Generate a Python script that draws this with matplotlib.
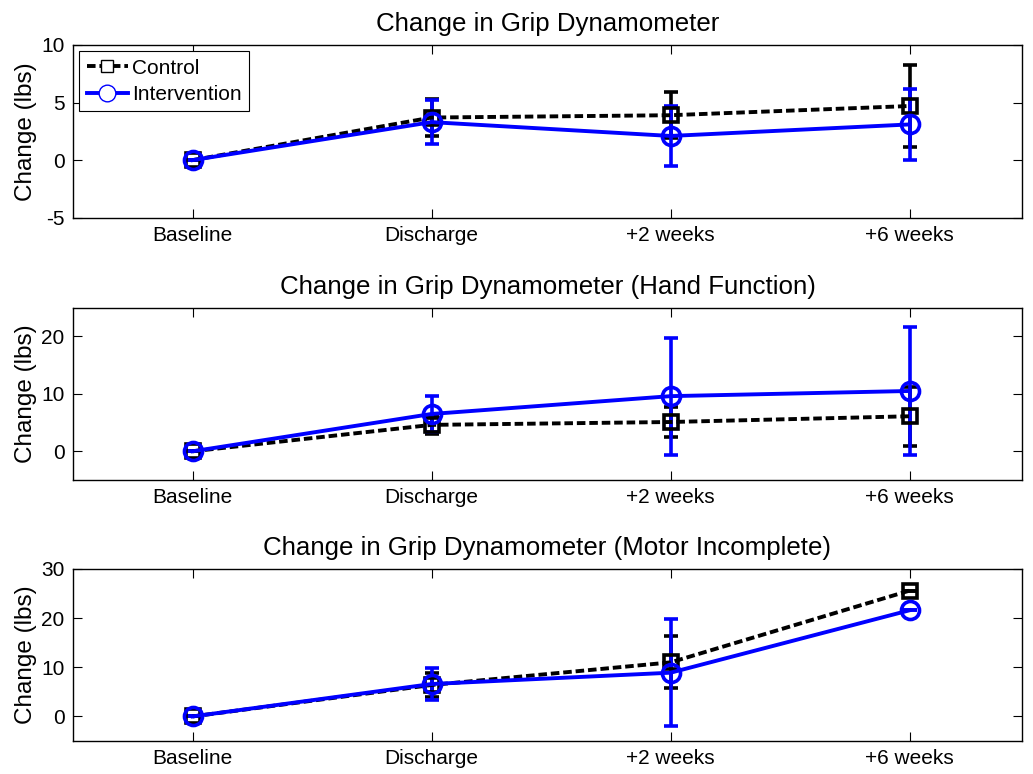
import matplotlib
matplotlib.use('Agg')
import matplotlib.pyplot as plt
from matplotlib.lines import Line2D

plt.rcParams['font.family'] = ['Liberation Sans', 'DejaVu Sans']
plt.rcParams['axes.unicode_minus'] = False

categories = ['Baseline', 'Discharge', '+2 weeks', '+6 weeks']
x = [1, 2, 3, 4]

titles = ['Change in Grip Dynamometer',
          'Change in Grip Dynamometer (Hand Function)',
          'Change in Grip Dynamometer (Motor Incomplete)']

control_mean = [[0, 3.7, 3.9, 4.7],
                [0, 4.6, 5.1, 6.1],
                [0, 6.4, 11.0, 25.6]]
control_err = [[0, 1.6, 2.0, 3.6],
               [0, 1.6, 2.6, 5.1],
               [0, 2.5, 5.3, 0]]
interv_mean = [[0, 3.3, 2.1, 3.1],
               [0, 6.5, 9.6, 10.5],
               [0, 6.6, 8.9, 21.6]]
interv_err = [[0, 1.9, 2.6, 3.1],
              [0, 3.2, 10.2, 11.1],
              [0, 3.3, 10.9, 0]]

ylims = [(-5, 10), (-5, 25), (-5, 30)]
yticks = [[-5, 0, 5, 10], [0, 10, 20], [0, 10, 20, 30]]

# axes boxes in figure fraction: left, bottom, width, height
boxes = [(0.0707, 0.7187, 0.9186, 0.2232),
         (0.0707, 0.3798, 0.9186, 0.2227),
         (0.0707, 0.0426, 0.9186, 0.2223)]

dash = (0, (2.2, 1.0))
blue = '#0000ff'

fig = plt.figure(figsize=(10.33, 7.74), dpi=100)

for i in range(3):
    ax = fig.add_axes(boxes[i])
    ax.errorbar(x, control_mean[i], yerr=control_err[i], color='black',
                linestyle=dash, linewidth=2.8, marker='s',
                markersize=10.5, markerfacecolor='none', markeredgewidth=2.6,
                elinewidth=2.6, capsize=5, capthick=2.6)
    ax.errorbar(x, interv_mean[i], yerr=interv_err[i], color=blue,
                linestyle='-', linewidth=2.8, marker='o',
                markersize=13, markerfacecolor='none', markeredgewidth=2.6,
                elinewidth=2.6, capsize=5, capthick=2.6)
    ax.set_xlim(0.5, 4.47)
    ax.set_ylim(*ylims[i])
    ax.set_xticks(x)
    ax.set_xticklabels(categories)
    ax.set_yticks(yticks[i])
    ax.tick_params(direction='in', top=True, right=True, length=6.5,
                   width=0.8, labelsize=15, pad=6)
    for s in ax.spines.values():
        s.set_linewidth(1.0)
    ax.set_title(titles[i], fontsize=18.6, pad=10)
    ax.set_ylabel('Change (lbs)', fontsize=17.5)
    ax.yaxis.set_label_coords(-0.038, 0.5)
    if i == 0:
        handles = [Line2D([], [], color='black', linestyle=dash, linewidth=2.8,
                          marker='s', markersize=9, markerfacecolor='white',
                          markeredgewidth=1.0),
                   Line2D([], [], color=blue, linestyle='-', linewidth=2.8,
                          marker='o', markersize=12, markerfacecolor='white',
                          markeredgewidth=1.0)]
        leg = ax.legend(handles, ['Control', 'Intervention'], loc='upper left',
                        fontsize=15, fancybox=False, edgecolor='black',
                        framealpha=1, borderaxespad=0.3, handlelength=2.0,
                        handletextpad=0.2, labelspacing=0.35, borderpad=0.35)
        leg.get_frame().set_linewidth(0.8)

fig.savefig('out.png', dpi=100)
